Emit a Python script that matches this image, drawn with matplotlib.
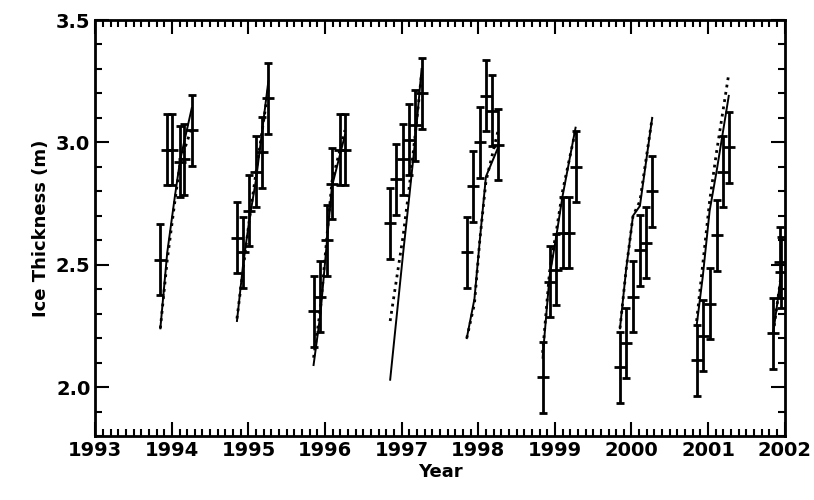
import matplotlib
matplotlib.use("Agg")
import matplotlib.pyplot as plt
from matplotlib.ticker import MultipleLocator
import numpy as np

# observed points per season (year, thickness)
obs_x = [
    [1993.85, 1993.94, 1994.00, 1994.10, 1994.16, 1994.26],
    [1994.85, 1994.93, 1995.01, 1995.10, 1995.18, 1995.26],
    [1995.85, 1995.94, 1996.02, 1996.09, 1996.19, 1996.26],
    [1996.85, 1996.93, 1997.02, 1997.10, 1997.18, 1997.26],
    [1997.85, 1997.93, 1998.02, 1998.10, 1998.18, 1998.26],
    [1998.85, 1998.93, 1999.02, 1999.10, 1999.18, 1999.27],
    [1999.85, 1999.93, 2000.02, 2000.11, 2000.19, 2000.27],
    [2000.85, 2000.93, 2001.02, 2001.11, 2001.19, 2001.27],
    [2001.85, 2001.94, 2001.95],
]
obs_y = [
    [2.52, 2.97, 2.97, 2.92, 2.93, 3.05],
    [2.61, 2.55, 2.72, 2.88, 2.96, 3.18],
    [2.31, 2.37, 2.60, 2.83, 2.97, 2.97],
    [2.67, 2.85, 2.93, 3.01, 3.07, 3.20],
    [2.55, 2.82, 3.00, 3.19, 3.13, 2.99],
    [2.04, 2.43, 2.48, 2.63, 2.63, 2.90],
    [2.08, 2.18, 2.37, 2.56, 2.59, 2.80],
    [2.11, 2.21, 2.34, 2.62, 2.88, 2.98],
    [2.22, 2.51, 2.47],
]
err = 0.145

# model curves (solid) per season
mod_x = [
    [1993.85, 1993.94, 1994.04, 1994.11, 1994.26],
    [1994.85, 1994.93, 1995.01, 1995.10, 1995.26],
    [1995.85, 1995.94, 1996.02, 1996.09, 1996.26],
    [1996.85, 1997.02, 1997.10, 1997.18, 1997.26],
    [1997.85, 1997.95, 1998.02, 1998.10, 1998.26],
    [1998.84, 1998.93, 1999.02, 1999.10, 1999.27],
    [1999.85, 1999.93, 2000.02, 2000.11, 2000.27],
    [2000.85, 2000.93, 2001.02, 2001.11, 2001.27],
    [2001.85, 2001.95],
]
mod_y = [
    [2.24, 2.55, 2.78, 2.93, 3.14],
    [2.27, 2.50, 2.68, 2.85, 3.25],
    [2.09, 2.30, 2.58, 2.82, 3.03],
    [2.03, 2.55, 2.78, 3.02, 3.30],
    [2.20, 2.36, 2.60, 2.86, 2.98],
    [2.12, 2.45, 2.62, 2.78, 3.06],
    [2.24, 2.48, 2.70, 2.74, 3.10],
    [2.25, 2.45, 2.72, 2.88, 3.19],
    [2.22, 2.45],
]
# model curves (dotted) per season
dot_y = [
    [2.24, 2.52, 2.76, 2.92, 3.06],
    [2.28, 2.48, 2.68, 2.88, 3.22],
    [2.12, 2.32, 2.60, 2.84, 3.05],
    [2.27, 2.62, 2.82, 3.04, 3.28],
    [2.20, 2.34, 2.60, 2.84, 3.05],
    [2.14, 2.47, 2.64, 2.80, 3.05],
    [2.24, 2.48, 2.70, 2.76, 3.10],
    [2.27, 2.50, 2.76, 2.96, 3.28],
    [2.22, 2.45],
]

plt.rcParams['font.family'] = ['DejaVu Sans']
fig, ax = plt.subplots(figsize=(8.14, 5.0), dpi=100)
fig.subplots_adjust(left=0.117, right=0.964, top=0.96, bottom=0.128)

for i in range(len(obs_x)):
    ax.errorbar(obs_x[i], obs_y[i], yerr=err, fmt='none', ecolor='black',
                elinewidth=2, capsize=3, capthick=2)
    ax.plot(obs_x[i], obs_y[i], '_', color='black', ms=8, mew=2, ls='none')
    ax.plot(mod_x[i], mod_y[i], '-', color='black', lw=1.4)
    ax.plot(mod_x[i], dot_y[i], ':', color='black', lw=2)

ax.set_xlim(1993, 2002)
ax.set_ylim(1.8, 3.5)
ax.xaxis.set_major_locator(MultipleLocator(1))
ax.xaxis.set_minor_locator(MultipleLocator(0.1))
ax.yaxis.set_major_locator(MultipleLocator(0.5))
ax.yaxis.set_minor_locator(MultipleLocator(0.1))
ax.tick_params(which='both', direction='in', top=True, right=True, width=1.5,
               labelsize=14)
ax.tick_params(which='major', length=10)
ax.tick_params(which='minor', length=5)
for lab in ax.get_xticklabels() + ax.get_yticklabels():
    lab.set_fontweight('bold')
ax.yaxis.set_major_formatter(matplotlib.ticker.FormatStrFormatter('%.1f'))
for s in ax.spines.values():
    s.set_linewidth(2)
ax.set_xlabel('Year', fontsize=13, labelpad=2, fontweight='bold')
ax.set_ylabel('Ice Thickness (m)', fontsize=13, fontweight='bold')
fig.savefig('out.png', dpi=100)
